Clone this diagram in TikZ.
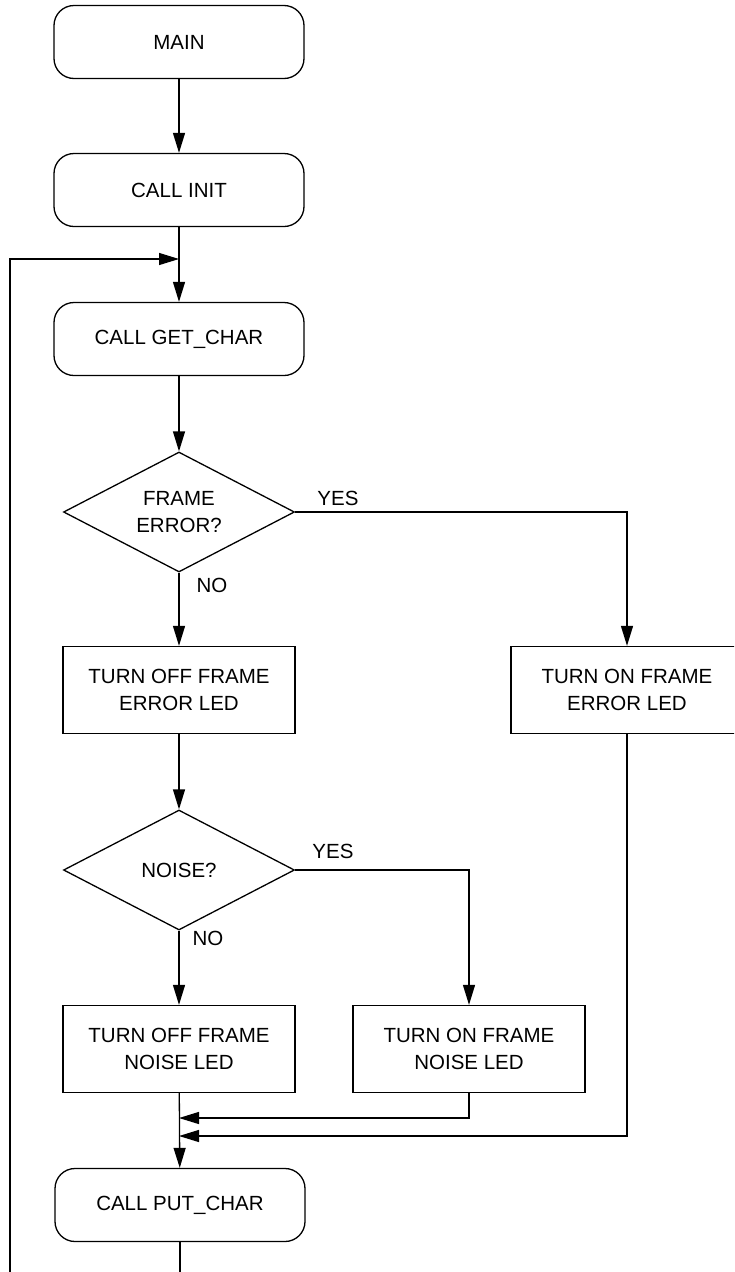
\documentclass[tikz,border=0pt]{standalone}
\usepackage{fontspec}
\setmainfont{Liberation Sans}
\usetikzlibrary{shapes.geometric,arrows.meta}
\begin{document}
\begin{tikzpicture}[x=1pt,y=-1pt,
  every node/.style={font=\fontsize{20.5}{27}\selectfont, align=center},
  term/.style={draw, line width=1.3pt, rounded corners=20pt, minimum width=250pt, minimum height=73pt, inner sep=0pt},
  proc/.style={draw, line width=1.3pt, minimum width=232pt, minimum height=87pt, inner sep=0pt},
  decis/.style={draw, line width=1.3pt, diamond, aspect=1.92, minimum width=231pt, minimum height=120pt, inner sep=0pt},
  lbl/.style={inner sep=0pt},
  conn/.style={line width=1.3pt},
  arr/.style={line width=1.3pt, -{Triangle[length=20pt,width=12pt]}}]
\clip (0,0) rectangle (734,1272);
\useasboundingbox (0,0) rectangle (734,1272);
\node[term] (main) at (179,42) {MAIN};
\node[term] (init) at (179,190) {CALL INIT};
\node[term] (get) at (179,339) {CALL GET\_CHAR};
\node[decis] (ferr) at (179,512) {FRAME\\ERROR?};
\node[proc] (offerr) at (179,690) {TURN OFF FRAME\\ERROR LED};
\node[proc] (onerr) at (627,690) {TURN ON FRAME\\ERROR LED};
\node[decis] (noise) at (179,870) {NOISE?};
\node[proc] (offnoise) at (179,1049) {TURN OFF FRAME\\NOISE LED};
\node[proc] (onnoise) at (469,1049) {TURN ON FRAME\\NOISE LED};
\node[term] (put) at (180,1205) {CALL PUT\_CHAR};
\node[lbl] (yes1) at (338,498) {YES};
\node[lbl] (no1) at (212,585) {NO};
\node[lbl] (yes2) at (333,851) {YES};
\node[lbl] (no2) at (208,938) {NO};
\coordinate (lj) at (179,259);
\coordinate (lb) at (10,1300);
\coordinate (m1) at (179,1118);
\coordinate (m2) at (179,1136);
\draw[arr] (main) -- (init);
\draw[arr] (init) -- (get);
\draw[arr] (get) -- (ferr);
\draw[arr] (ferr) -- (offerr);
\draw[arr] (ferr.east) -| (onerr.north);
\draw[arr] (offerr) -- (noise);
\draw[arr] (noise) -- (offnoise);
\draw[arr] (noise.east) -| (onnoise.north);
\draw[arr] (offnoise) -- (put);
\draw[arr] (onnoise.south) |- (m1);
\draw[arr] (onerr.south) |- (m2);
\draw[arr] (put.south) |- (lb) |- (lj);
\end{tikzpicture}
\end{document}
